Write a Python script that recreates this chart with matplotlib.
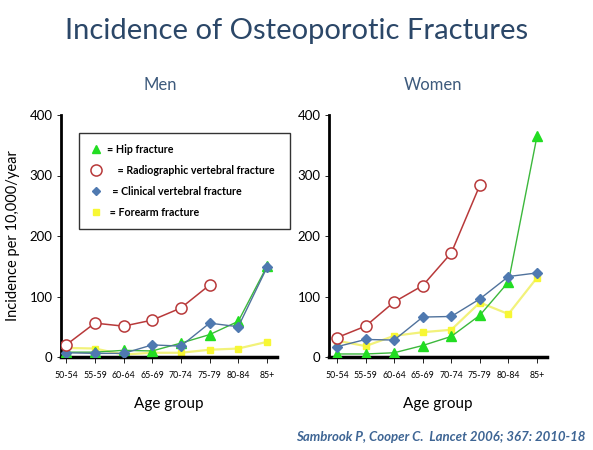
import matplotlib.pyplot as plt
from matplotlib.lines import Line2D

plt.rcParams['font.family'] = ['Lato', 'DejaVu Sans']

age_groups = ["50-54", "55-59", "60-64", "65-69", "70-74", "75-79", "80-84", "85+"]

# men, incidence per 10,000/year
men_hip = [8, 8, 11, 10, 23, 37, 59, 150]
men_radio = [20, 56, 51, 61, 81, 119]
men_clin = [7, 6, 6, 20, 18, 56, 50, 148]
men_forearm = [15, 14, 4, 7, 7, 12, 14, 25]

# women
women_hip = [5, 5, 7, 19, 34, 69, 124, 365]
women_radio = [32, 51, 91, 118, 172, 284]
women_clin = [17, 29, 28, 66, 67, 96, 133, 139]
women_forearm = [27, 18, 35, 41, 45, 90, 71, 131]

GREEN = "#22dd22"
GREEN_LINE = "#3cb83c"
RED = "#b8393a"
BLUE = "#4f79b0"
BLUE_LINE = "#50729c"
YELLOW = "#f7f734"
YELLOW_LINE = "#f2f27a"

fig = plt.figure(figsize=(5.93, 4.5), dpi=100)
fig.patch.set_facecolor("white")

ax_m = fig.add_axes([61 / 593, 93 / 450, 216 / 593, 242 / 450])
ax_w = fig.add_axes([329 / 593, 93 / 450, 218 / 593, 242 / 450])


def draw(ax, hip, radio, clin, forearm, xmin):
    x = list(range(len(age_groups)))
    ax.plot(x, forearm, color=YELLOW_LINE, lw=1.6, marker="s", ms=5,
            mfc=YELLOW, mec=YELLOW, zorder=2)
    ax.plot(x, hip, color=GREEN_LINE, lw=1.0, marker="^", ms=6.5,
            mfc=GREEN, mec=GREEN, zorder=3)
    ax.plot(x, clin, color=BLUE_LINE, lw=1.0, marker="D", ms=4.8,
            mfc=BLUE, mec=BLUE, zorder=4)
    ax.plot(x[:len(radio)], radio, color=RED, lw=1.1, marker="o", ms=8,
            mfc="white", mec=RED, mew=1.1, zorder=5)
    ax.set_xlim(xmin, 7.35)
    ax.set_ylim(0, 400)
    ax.set_yticks([0, 100, 200, 300, 400])
    ax.set_xticks(x)
    ax.set_xticklabels(age_groups, fontsize=6.3)
    ax.tick_params(axis="y", labelsize=9.5, length=3, width=0.6, pad=3)
    ax.tick_params(axis="x", length=4, width=0.6, pad=6)
    for s in ["top", "right"]:
        ax.spines[s].set_visible(False)
    ax.spines["left"].set_linewidth(2)
    ax.spines["bottom"].set_linewidth(2.5)
    ax.set_xlabel("Age group", fontsize=11, labelpad=12)
    ax.set_facecolor("white")


draw(ax_m, men_hip, men_radio, men_clin, men_forearm, -0.18)
draw(ax_w, women_hip, women_radio, women_clin, women_forearm, -0.28)

ax_m.set_ylabel("Incidence per 10,000/year", fontsize=10.5, labelpad=7)

handles = [
    Line2D([], [], ls="none", marker="^", ms=5.5, mfc=GREEN, mec=GREEN),
    Line2D([], [], ls="none", marker="o", ms=8, mfc="white", mec=RED, mew=1.1),
    Line2D([], [], ls="none", marker="D", ms=4.5, mfc=BLUE, mec=BLUE),
    Line2D([], [], ls="none", marker="s", ms=5, mfc=YELLOW, mec=YELLOW),
]
labels = ["= Hip fracture", "    = Radiographic vertebral fracture  ",
          "  = Clinical vertebral fracture", " = Forearm fracture"]
leg = ax_m.legend(handles, labels, loc="upper left",
                  bbox_to_anchor=(18 / 216, 224 / 242), ncol=1,
                  prop={"weight": "bold", "size": 7.7},
                  frameon=True, fancybox=False, edgecolor="black",
                  labelspacing=0.95, handletextpad=0.5, handlelength=1.1,
                  borderpad=1.0, borderaxespad=0)
leg.get_frame().set_linewidth(1.0)
leg.set_zorder(10)

fig.text(0.5, 1 - 31 / 450, "Incidence of Osteoporotic Fractures",
         ha="center", va="center", fontsize=21, color="#2b4768")
fig.text(160 / 593, 1 - 85 / 450, "Men", ha="center", va="center",
         fontsize=12, color="#3d5a7c")
fig.text(433 / 593, 1 - 85 / 450, "Women", ha="center", va="center",
         fontsize=12, color="#3d5a7c")
fig.text(585 / 593, 1 - 437 / 450,
         "Sambrook P, Cooper C.  Lancet 2006; 367: 2010-18",
         ha="right", va="center", fontsize=9.5, style="italic",
         weight="bold", color="#3e6594")

fig.savefig("out.png", dpi=100, facecolor="white")
